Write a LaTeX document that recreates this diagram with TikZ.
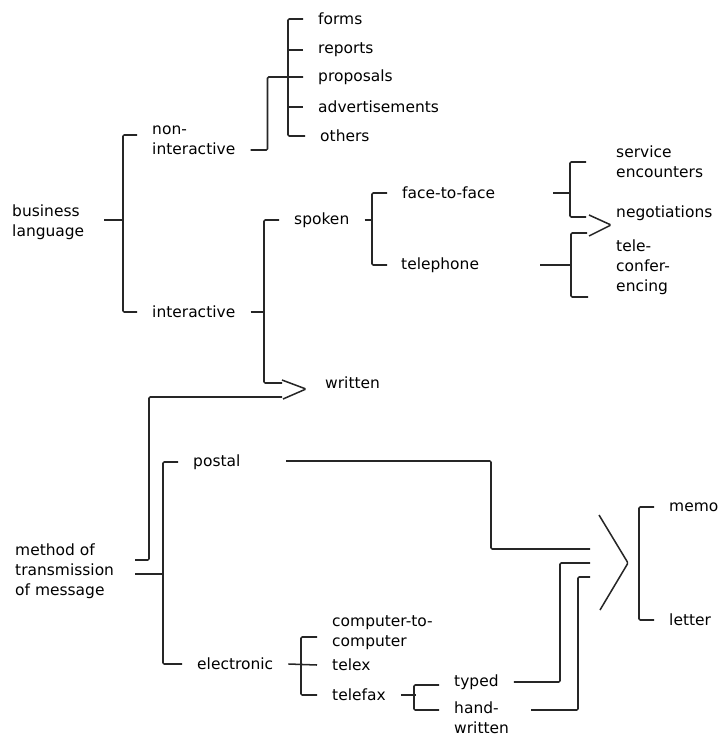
\documentclass[tikz,border=0pt]{standalone}
\usepackage{fontspec}
\setmainfont{DejaVu Sans}
\usepackage{tikz}
\usetikzlibrary{positioning}

\begin{document}
\begin{tikzpicture}[
    x=0.03cm, y=-0.03cm,
    lbl/.style={anchor=west, align=left, inner xsep=12.8pt, inner ysep=0pt,
                font=\fontsize{13.2}{17}\selectfont},
    br/.style={draw=black!85, line width=1.3pt, rounded corners=1pt},
]
\useasboundingbox (0,0) rectangle (720,736);

% labels
\node[lbl] (busi) at (-3,222) {business\\language};
\node[lbl] (nonint) at (137,140) {non-\\interactive};
\node[lbl] (inter) at (137,312) {interactive};
\node[lbl] (forms) at (303,19) {forms};
\node[lbl] (reports) at (303,50) {reports};
\node[lbl] (proposals) at (303,77) {proposals};
\node[lbl] (advert) at (303,107) {advertisements};
\node[lbl] (others) at (305,136) {others};
\node[lbl] (spoken) at (279,220) {spoken};
\node[lbl] (written) at (310,383) {written};
\node[lbl] (f2f) at (387,193) {face-to-face};
\node[lbl] (tel) at (386,265) {telephone};
\node[lbl] (serv) at (601,162) {service\\encounters};
\node[lbl] (nego) at (601,213) {negotiations};
\node[lbl] (telecon) at (601,267) {tele-\\confer-\\encing};
\node[lbl] (method) at (0,571) {method of\\transmission\\of message};
\node[lbl] (postal) at (178,462) {postal};
\node[lbl] (elec) at (182,664) {electronic};
\node[lbl] (c2c) at (317,633) {computer-to-\\computer};
\node[lbl] (telex) at (317,665) {telex};
\node[lbl] (telefax) at (317,695) {telefax};
\node[lbl] (typed) at (439,682) {typed};
\node[lbl] (handw) at (439,718) {hand-\\written};
\node[lbl] (memo) at (654,507) {memo};
\node[lbl] (letter) at (654,620) {letter};

\coordinate (busj) at (123,220);
\coordinate (wtip) at (306,389);
\coordinate (ntip) at (611,225);
\coordinate (mtip) at (628,563);

% business language
\draw[br] (busj) -- ++(-19,0);
\draw[br] ([shift={(0,-5)}]nonint.west) -- ++(-14,0) |- (inter.west);
\draw[br] ([shift={(0,10)}]nonint.east) -- ++(17,0) |- (proposals.west);
\draw[br] (forms.west) -- ++(-15,0) |- (others.west);
\foreach \n in {reports,proposals,advert}
    \draw[br] (\n.west) -- ++(-15,0);

% interactive
\draw[br] (spoken.west) -- ++(-15,0) coordinate (spk) |- ([shift={(-24,-6)}]wtip);
\draw[br] (inter.east) -- (inter.east -| spk);
\draw[br] ([shift={(-24,-9)}]wtip) -- (wtip) -- ([shift={(-23,10)}]wtip);
\draw[br] (f2f.west) -- ++(-15,0) coordinate (fj) |- ([shift={(1,0)}]tel.west);
\draw[br] (spoken.east) -- (spoken.east -| fj);

% face-to-face, telephone
\draw[br] (553,193) -- (570,193);
\draw[br] (586,162) -| (570,217) -- (586,217);
\draw[br] ([shift={(-22,-10)}]ntip) -- (ntip) -- ([shift={(-22,11)}]ntip);
\draw[br] (540,265) -- (571,265);
\draw[br] (587,233) -| (571,297) -- (588,297);

% method of transmission
\draw[br] (135,560) -| (149,397) -- ([shift={(-24,8)}]wtip);
\draw[br] (135,574) -- (163,574);
\draw[br] (postal.west) -- ++(-15,0) |- (elec.west);
\draw[br] (286,461) -| (491,549) -- (590,549);
\draw[br] ([shift={(0,4)}]c2c.west) -- ++(-16,0) |- (telefax.west);
\draw[br] (elec.east) -- (telex.west);
\draw[br] (telefax.east) -- ++(15,0) coordinate (tfj);
\draw[br] ([shift={(0,3)}]typed.west) -- ++(-25,0) |- ([shift={(0,-8)}]handw.west);
\draw[br] (typed.east) -| (560,563) -- (590,563);
\draw[br] ([shift={(7,-8)}]handw.east) -| (578,577) -- (590,577);

% memo, letter
\draw[br] ([shift={(-29,-48)}]mtip) -- (mtip) -- ([shift={(-28,47)}]mtip);
\draw[br] (memo.west) -- ++(-15,0) |- (letter.west);
\end{tikzpicture}
\end{document}
